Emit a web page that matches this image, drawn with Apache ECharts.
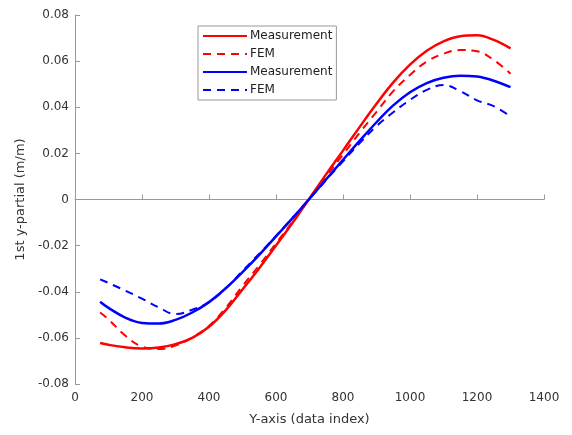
<!DOCTYPE html>
<html>
<head>
<meta charset="utf-8">
<script src="https://cdn.jsdelivr.net/npm/echarts@6/dist/echarts.min.js"></script>
<style>html,body{margin:0;padding:0;background:#fff}#c{width:572px;height:435px}</style>
</head>
<body>
<div id="c"></div>
<script>
var xIndex = [75,100,150,200,250,300,350,400,450,500,550,600,650,700,750,800,850,900,950,1000,1050,1100,1150,1200,1250,1300];
var yRedMeas = [-0.0622,-0.0630,-0.0641,-0.0646,-0.0642,-0.0627,-0.0600,-0.0552,-0.0480,-0.0390,-0.0298,-0.0200,-0.0100,0.0005,0.0110,0.0212,0.0315,0.0415,0.0508,0.0585,0.0645,0.0686,0.0708,0.0712,0.0692,0.0655];
var yRedFem = [-0.0490,-0.0520,-0.0590,-0.0638,-0.0648,-0.0633,-0.0598,-0.0548,-0.0470,-0.0375,-0.0285,-0.0190,-0.0095,0.0005,0.0100,0.0195,0.0290,0.0380,0.0470,0.0540,0.0598,0.0632,0.0648,0.0643,0.0605,0.0545];
var yBlueMeas = [-0.0443,-0.0470,-0.0512,-0.0535,-0.0538,-0.0522,-0.0490,-0.0445,-0.0385,-0.0315,-0.0240,-0.0160,-0.0080,0.0003,0.0088,0.0172,0.0255,0.0335,0.0408,0.0465,0.0505,0.0528,0.0537,0.0533,0.0515,0.0487];
var yBlueFem = [-0.0346,-0.0362,-0.0395,-0.0430,-0.0468,-0.0497,-0.0478,-0.0445,-0.0385,-0.0310,-0.0235,-0.0158,-0.0078,0.0003,0.0085,0.0165,0.0245,0.0318,0.0378,0.0432,0.0475,0.0496,0.0470,0.0430,0.0405,0.0360];
var legendNames = ['Measurement','FEM','Measurement\u200b','FEM\u200b'];

function pairs(ys){ return xIndex.map(function(x,i){ return [x, ys[i]]; }); }
function mk(name, ys, color, dashed){
  return {
    name: name, type: 'line', data: pairs(ys), smooth: 0.4, symbol: 'none',
    lineStyle: {color: color, width: dashed ? 2 : 2.5, type: dashed ? [8,6] : 'solid'},
    itemStyle: {color: color}
  };
}
var chart = echarts.init(document.getElementById('c'), null, {renderer:'canvas'});
var font = 'DejaVu Sans';
chart.setOption({
  animation: false,
  textStyle: {fontFamily: font},
  grid: {left: 75, right: 28, top: 15, bottom: 51},
  legend: {
    data: legendNames, orient: 'vertical', left: 198, top: 26,
    itemWidth: 44, itemHeight: 10, itemGap: 6,
    borderColor: '#999', borderWidth: 1, padding: [4, 4, 4, 4],
    backgroundColor: '#fff',
    itemStyle: {opacity: 0},
    textStyle: {fontFamily: font, fontSize: 12, color: '#222', padding: [0,0,0,-2]}
  },
  xAxis: {
    type: 'value', min: 0, max: 1400, interval: 200,
    name: 'Y-axis (data index)', nameLocation: 'middle', nameGap: 29,
    nameTextStyle: {fontFamily: font, fontSize: 13, color: '#333'},
    axisLine: {show: true, lineStyle: {color: '#999'}},
    axisTick: {show: true, inside: true, length: 5, lineStyle: {color: '#999'}},
    axisLabel: {fontFamily: font, fontSize: 12, color: '#333', margin: 8,
      formatter: function(v){ return String(v); }},
    splitLine: {show: false}
  },
  yAxis: {
    type: 'value', min: -0.08, max: 0.08, interval: 0.02,
    name: '1st y-partial (m/m)', nameLocation: 'middle', nameGap: 48,
    nameTextStyle: {fontFamily: font, fontSize: 13, color: '#333'},
    axisLine: {show: true, lineStyle: {color: '#999'}},
    axisTick: {show: true, inside: true, length: 5, lineStyle: {color: '#999'}},
    axisLabel: {fontFamily: font, fontSize: 12, color: '#333', margin: 6,
      formatter: function(v){ return String(parseFloat(v.toFixed(2))); }},
    splitLine: {show: false}
  },
  series: [
    mk(legendNames[0], yRedMeas, '#ff0000', false),
    mk(legendNames[1], yRedFem, '#ff0000', true),
    mk(legendNames[2], yBlueMeas, '#0000ff', false),
    mk(legendNames[3], yBlueFem, '#0000ff', true)
  ]
});
</script>
</body>
</html>
